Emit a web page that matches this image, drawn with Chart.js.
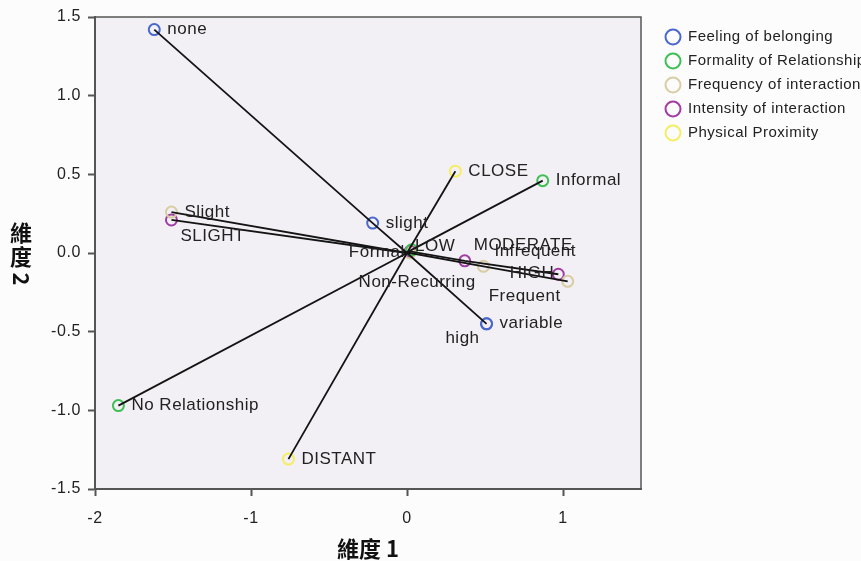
<!DOCTYPE html>
<html>
<head>
<meta charset="utf-8">
<script src="https://cdn.jsdelivr.net/npm/chart.js@4.4.1/dist/chart.umd.min.js"></script>
<style>
  html, body { margin: 0; padding: 0; background: #fcfcfc; }
  #wrap { width: 861px; height: 561px; }
</style>
</head>
<body>
<div id="wrap"><canvas id="plot" width="861" height="561"></canvas></div>
<script>
// axis ticks
const xTicks = [-2, -1, 0, 1];
const yTicks = [-1.5, -1.0, -0.5, 0.0, 0.5, 1.0, 1.5];

// variables (legend order)
const seriesNames = ['Feeling of belonging', 'Formality of Relationship', 'Frequency of interaction', 'Intensity of interaction', 'Physical Proximity'];
const seriesColors = ['#4a68cc', '#3fbf55', '#d8cda3', '#a03ca3', '#f6ee62'];

// category points, dimension 1 / dimension 2
const feelingCats = ['none', 'slight', 'variable', 'high'];
const feelingX = [-1.62, -0.22, 0.51, 0.51];
const feelingY = [1.42, 0.19, -0.45, -0.45];

const formalityCats = ['No Relationship', 'Formal', 'Informal'];
const formalityX = [-1.85, 0.03, 0.87];
const formalityY = [-0.97, 0.02, 0.46];

const frequencyCats = ['Slight', 'Non-Recurring', 'Infrequent', 'Frequent'];
const frequencyX = [-1.51, 0.02, 0.49, 1.03];
const frequencyY = [0.26, 0.0, -0.085, -0.18];

const intensityCats = ['SLIGHT', 'LOW', 'MODERATE', 'HIGH'];
const intensityX = [-1.51, 0.02, 0.37, 0.97];
const intensityY = [0.21, 0.01, -0.05, -0.135];

const proximityCats = ['DISTANT', 'CLOSE'];
const proximityX = [-0.76, 0.31];
const proximityY = [-1.31, 0.52];

// label placement tweaks (pixels) where labels were moved to avoid overlap
const labelNudge = {
  'SLIGHT': { dx: 9, dy: 16 },
  'high': { dx: -7, dy: 15, align: 'right' },
  'Frequent': { dx: -7, dy: 15, align: 'right' },
  'HIGH': { dx: -4, dy: -1, align: 'right' },
  'Infrequent': { dx: 11, dy: -15 },
  'MODERATE': { dx: 9, dy: -16 },
  'Formal': { dx: -7, dy: 2, align: 'right' },
  'LOW': { dx: 5, dy: -5 },
  'Non-Recurring': { dx: 7, dy: 29, align: 'center' }
};

const allCats = [feelingCats, formalityCats, frequencyCats, intensityCats, proximityCats];
const allX = [feelingX, formalityX, frequencyX, intensityX, proximityX];
const allY = [feelingY, formalityY, frequencyY, intensityY, proximityY];

const datasets = [];
seriesNames.forEach((name, i) => {
  const pts = allX[i].map((x, j) => ({ x: x, y: allY[i][j] }));
  // vector through the origin
  const line = pts.concat([{ x: 0, y: 0 }]).sort((a, b) => a.x - b.x);
  datasets.push({
    label: name,
    data: pts,
    cats: allCats[i],
    isPoints: true,
    showLine: false,
    pointRadius: 5.5,
    pointBorderWidth: 2,
    pointBorderColor: seriesColors[i],
    pointBackgroundColor: 'rgba(0,0,0,0)',
    order: i === 1 ? 1 : 2
  });
  datasets.push({
    label: name + ' vector',
    data: line,
    showLine: true,
    borderColor: '#141414',
    borderWidth: 1.8,
    pointRadius: 0,
    order: 0
  });
});

const FONT = '"Liberation Sans", Arial, sans-serif';

const decor = {
  id: 'decor',
  beforeDraw(chart) {
    const { ctx, chartArea: a } = chart;
    ctx.save();
    ctx.fillStyle = '#fcfcfc';
    ctx.fillRect(0, 0, chart.width, chart.height);
    ctx.fillStyle = '#f2f0f5';
    ctx.fillRect(a.left, a.top, a.right - a.left, a.bottom - a.top);
    ctx.restore();
    ctx.letterSpacing = '0.6px';
  },
  afterDatasetsDraw(chart) {
    const { ctx, chartArea: a } = chart;
    ctx.save();
    ctx.font = '17px ' + FONT;
    ctx.letterSpacing = '0.5px';
    ctx.fillStyle = '#222';
    ctx.textBaseline = 'middle';
    chart.data.datasets.forEach((ds, i) => {
      if (!ds.isPoints) return;
      const meta = chart.getDatasetMeta(i);
      meta.data.forEach((el, j) => {
        const name = ds.cats[j];
        const n = labelNudge[name] || { dx: 13, dy: 0 };
        ctx.textAlign = n.align || 'left';
        ctx.fillText(name, el.x + n.dx, el.y + n.dy);
      });
    });
    // frame top/right
    ctx.strokeStyle = '#555';
    ctx.lineWidth = 1.5;
    ctx.beginPath();
    ctx.moveTo(a.left, a.top);
    ctx.lineTo(a.right, a.top);
    ctx.lineTo(a.right, a.bottom);
    ctx.stroke();
    ctx.restore();
  },
  afterDraw(chart) {
    const { ctx, chartArea: a } = chart;
    ctx.save();
    // legend
    ctx.font = '15px ' + FONT;
    ctx.letterSpacing = '0.5px';
    ctx.textBaseline = 'middle';
    ctx.textAlign = 'left';
    seriesNames.forEach((name, i) => {
      const y = 37 + i * 24;
      ctx.beginPath();
      ctx.arc(673, y, 7.5, 0, Math.PI * 2);
      ctx.strokeStyle = seriesColors[i];
      ctx.lineWidth = 2;
      ctx.stroke();
      ctx.fillStyle = '#222';
      ctx.fillText(name, 688, y);
    });
    // axis titles
    ctx.letterSpacing = '0px';
    ctx.fillStyle = '#111';
    ctx.font = 'bold 22px "Noto Sans CJK SC", sans-serif';
    ctx.textAlign = 'center';
    ctx.fillText('維度 1', (a.left + a.right) / 2, 549);
    const cx = 21;
    ctx.fillText('維', cx, 233);
    ctx.fillText('度', cx, 257);
    ctx.translate(cx, 279);
    ctx.rotate(Math.PI / 2);
    ctx.fillText('2', 0, 0);
    ctx.restore();
  }
};

new Chart(document.getElementById('plot'), {
  type: 'scatter',
  data: { datasets: datasets },
  options: {
    responsive: false,
    animation: false,
    events: [],
    layout: { padding: { top: 17, right: 220, left: 0, bottom: 0 } },
    plugins: { legend: { display: false }, tooltip: { enabled: false } },
    scales: {
      x: {
        type: 'linear',
        min: -2,
        max: 1.5,
        afterBuildTicks: s => { s.ticks = xTicks.map(v => ({ value: v })); },
        afterFit: s => { s.height = 72; },
        ticks: { font: { size: 16, family: FONT }, color: '#222', padding: 13, callback: v => String(v) },
        grid: { drawOnChartArea: false, drawTicks: true, tickLength: 7, tickColor: '#555', tickWidth: 2 },
        border: { color: '#555', width: 2 }
      },
      y: {
        type: 'linear',
        min: -1.5,
        max: 1.5,
        afterBuildTicks: s => { s.ticks = yTicks.map(v => ({ value: v })); },
        afterFit: s => { s.width = 95; },
        ticks: { font: { size: 16, family: FONT }, color: '#222', padding: 7, callback: v => v.toFixed(1) },
        grid: { drawOnChartArea: false, drawTicks: true, tickLength: 7, tickColor: '#555', tickWidth: 2 },
        border: { color: '#555', width: 2 }
      }
    }
  },
  plugins: [decor]
});
</script>
</body>
</html>
